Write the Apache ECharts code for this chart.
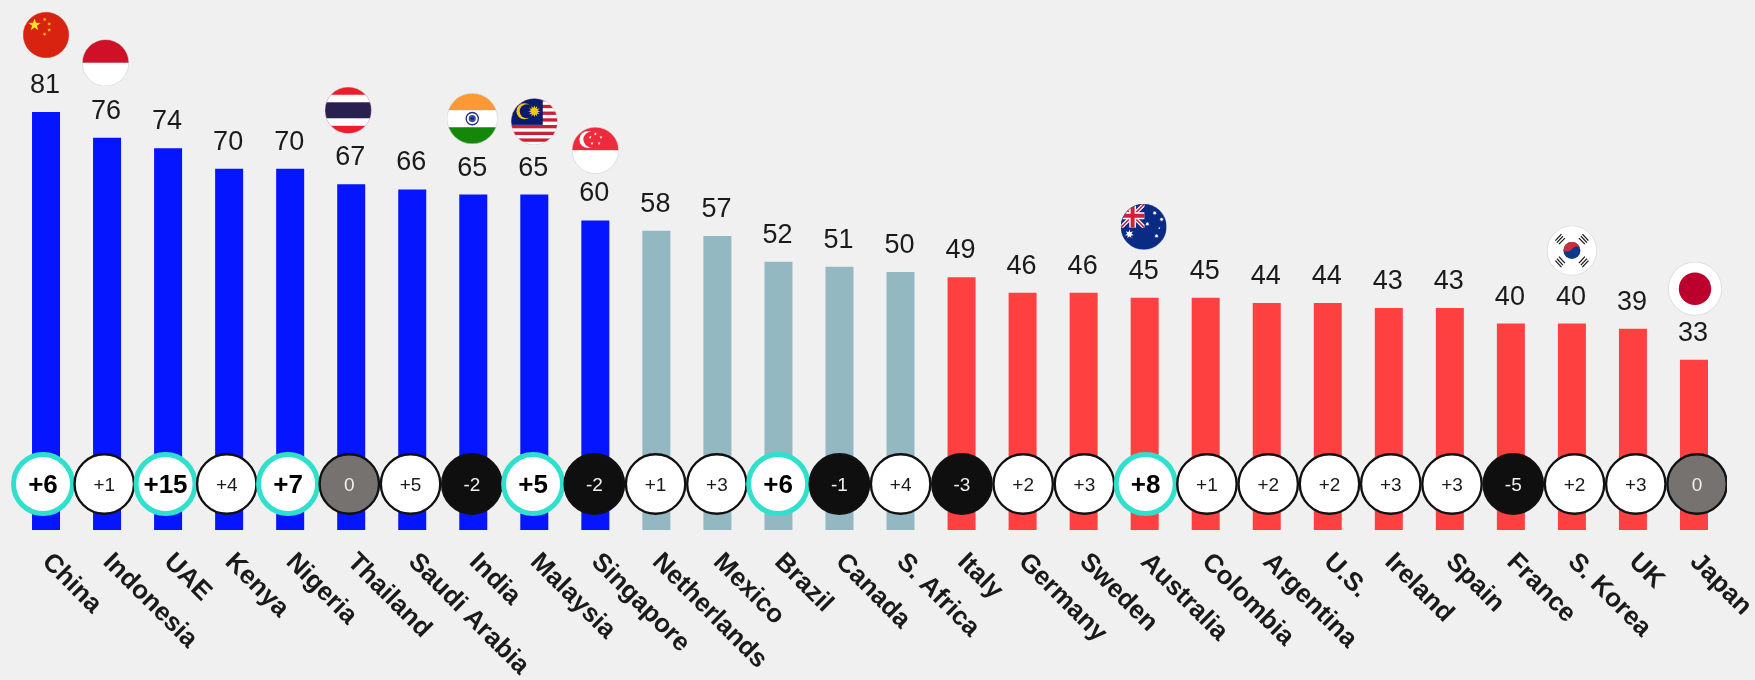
<!DOCTYPE html>
<html><head><meta charset="utf-8">
<style>html,body{margin:0;padding:0;background:#f0f0f0}#c{width:1755px;height:680px}</style>
<script src="https://cdn.jsdelivr.net/npm/echarts@6/dist/echarts.min.js"></script>
</head><body><div id="c"></div>
<script>
const categories = ['China','Indonesia','UAE','Kenya','Nigeria','Thailand','Saudi Arabia','India','Malaysia','Singapore','Netherlands','Mexico','Brazil','Canada','S. Africa','Italy','Germany','Sweden','Australia','Colombia','Argentina','U.S.','Ireland','Spain','France','S. Korea','UK','Japan'];
const values = [81,76,74,70,70,67,66,65,65,60,58,57,52,51,50,49,46,46,45,45,44,44,43,43,40,40,39,33];
const tiers = [0,0,0,0,0,0,0,0,0,0,1,1,1,1,1,2,2,2,2,2,2,2,2,2,2,2,2,2];
const changes = ['+6','+1','+15','+4','+7','0','+5','-2','+5','-2','+1','+3','+6','-1','+4','-3','+2','+3','+8','+1','+2','+2','+3','+3','-5','+2','+3','0'];
const highlighted = ['China','UAE','Nigeria','Malaysia','Brazil','Australia'];

const tierColors = ['#0515ff','#93b8c1','#ff4040'];

function star(cx,cy,r,rot=0,n=5,inner=0.4){
  let p=[];
  for(let i=0;i<n*2;i++){
    const a=-Math.PI/2+rot+i*Math.PI/n, q=i%2?r*inner:r;
    p.push((cx+q*Math.cos(a)).toFixed(2)+','+(cy+q*Math.sin(a)).toFixed(2));
  }
  return p.join(' ');
}
const S=(c,cx,cy,r,rot,n,inner)=>`<polygon fill="${c}" points="${star(cx,cy,r,rot,n,inner)}"/>`;
const R=(c,x,y,w,h)=>`<rect fill="${c}" x="${x}" y="${y}" width="${w}" height="${h}"/>`;
function flag(body,edge){
  const svg=`<svg xmlns="http://www.w3.org/2000/svg" width="200" height="200" viewBox="0 0 100 100"><defs><clipPath id="k"><circle cx="50" cy="50" r="49.4"/></clipPath></defs><g clip-path="url(#k)">${body}</g><circle cx="50" cy="50" r="49.4" fill="none" stroke="${edge||'#c8c8c8'}" stroke-width="1"/></svg>`;
  return 'image://data:image/svg+xml;charset=utf-8,'+encodeURIComponent(svg);
}
const malaysiaStripes=(()=>{let s=R('#fff',0,0,100,100);for(let i=0;i<7;i++)s+=R('#cc1f35',0,i*14.3,100,7.1);return s;})();
const flagArt = {
  'China': flag(R('#d7230f',0,0,100,100)+S('#ffde2e',25,28,14)+S('#ffc42e',47,16,4.5,.4)+S('#ffc42e',57,26,4.5,.9)+S('#ffc42e',57,39,4.5,0)+S('#ffc42e',47,48,4.5,.5),'#d7230f'),
  'Indonesia': flag(R('#ce1126',0,0,100,50)+R('#fff',0,50,100,50)),
  'Thailand': flag(R('#ef1c2a',0,0,100,100)+R('#fff',0,17,100,66)+R('#2a2050',0,33,100,34)),
  'India': flag(R('#ff9933',0,0,100,34)+R('#fff',0,34,100,33)+R('#138808',0,67,100,33)+`<circle cx="50" cy="50" r="12" fill="none" stroke="#22307f" stroke-width="2.6"/><circle cx="50" cy="50" r="7" fill="#3a4a9a"/><circle cx="50" cy="50" r="2.5" fill="#101f70"/>`),
  'Malaysia': flag(malaysiaStripes+R('#0a1a6c',0,0,68,57)+`<circle cx="29" cy="28" r="17" fill="#f5c518"/><circle cx="34" cy="28" r="15" fill="#0a1a6c"/>`+S('#f5c518',50,28,13,0,12,.55)),
  'Singapore': flag(R('#ee2a3c',0,0,100,50)+R('#fff',0,50,100,50)+`<circle cx="34" cy="27" r="18" fill="#fff"/><circle cx="41" cy="27" r="16.5" fill="#ee2a3c"/>`+S('#fff',50,15,3.6)+S('#fff',62,22,3.6)+S('#fff',58,35,3.6)+S('#fff',43,35,3.6)+S('#fff',39,22,3.6)),
  'Australia': flag(R('#0a2a84',0,0,100,100)+`<svg x="0" y="0" width="52" height="52" viewBox="0 0 60 60">${R('#0a2a84',0,0,60,60)}<path d="M0 0L60 60M60 0L0 60" stroke="#fff" stroke-width="10"/><path d="M0 0L60 60M60 0L0 60" stroke="#d0203a" stroke-width="4"/><path d="M30 0V60M0 30H60" stroke="#fff" stroke-width="17"/><path d="M30 0V60M0 30H60" stroke="#d0203a" stroke-width="10"/></svg>`+S('#fff',19,66,10,0,7,.45)+S('#fff',74,20,5,0,7,.45)+S('#fff',89,34,5,0,7,.45)+S('#fff',58,44,5,0,7,.45)+S('#fff',84,53,3,0,5)+S('#fff',78,70,5,0,7,.45),'#0a2a84'),
  'S. Korea': flag(R('#fff',0,0,100,100)+`<circle cx="50" cy="50" r="17" fill="#0b3a8c"/><path d="M33 50A17 17 0 0 1 67 50C67 42 58 39 52 45C48 50 42 55 33 50Z" fill="#cd2e3a"/><g stroke="#1d1d1d" stroke-width="2.6" fill="none"><path d="M17 30L29 17M20 34L32 21M24 37L36 25"/><path d="M71 17L83 30M68 21L80 34M64 25L76 37"/><path d="M17 70L29 83M20 66L32 79M24 62L36 75"/><path d="M71 83L83 70M68 79L80 66M64 75L76 62"/></g>`),
  'Japan': flag(R('#fff',0,0,100,100)+'<circle cx="50" cy="50" r="30" fill="#bc002d"/>')
};
// flag size and its lift above the bar top
const flagPlacement = [
  ['China',46,0,-77],['Indonesia',47,-1.5,-75],['Thailand',47,-3,-74],['India',51,-1,-76],['Malaysia',47,0,-73],
  ['Singapore',47,0,-70],['Australia',46,-1,-71],['S. Korea',50,0,-73],['Japan',54,1,-71]
];

const chart = echarts.init(document.getElementById('c'));
const FONT = '"Liberation Sans", Arial, sans-serif';
chart.setOption({
  animation:false,
  backgroundColor:'#f0f0f0',
  grid:[
    {left:15.5,width:1709,top:14,height:516,outerBoundsMode:'none'},
    {left:12.37,width:1715.3,top:424,height:120,outerBoundsMode:'none'}
  ],
  xAxis:[
    {type:'category',gridIndex:0,data:categories,axisLine:{show:false},axisTick:{show:false},
     axisLabel:{interval:0,rotate:-45,margin:28,fontFamily:FONT,fontWeight:'bold',fontSize:26,color:'#1a1a1a'}},
    {type:'category',gridIndex:1,data:categories,show:false}
  ],
  yAxis:[
    {type:'value',gridIndex:0,min:0,max:100,show:false,splitLine:{show:false}},
    {type:'category',gridIndex:1,data:['change'],show:false}
  ],
  series:[
    {type:'bar',xAxisIndex:0,yAxisIndex:0,barWidth:28,
     data:values.map((v,i)=>({value:v,itemStyle:{color:tierColors[tiers[i]]}})),
     label:{show:true,position:'top',distance:13,offset:[-1,0],fontFamily:FONT,fontSize:27,color:'#1a1a1a'}},
    {type:'scatter',xAxisIndex:0,yAxisIndex:0,z:3,itemStyle:{opacity:1},
     data:flagPlacement.map(([c,size,dx,dy])=>({
       value:[c,values[categories.indexOf(c)]],symbol:flagArt[c],symbolSize:size,symbolOffset:[dx,dy]
     }))},
    {type:'custom',xAxisIndex:1,yAxisIndex:1,z:4,
     data:categories.map((c,i)=>[i,0,changes[i]]),
     encode:{x:0,y:1},
     renderItem(params,api){
       const i=api.value(0), p=api.coord([i,0]), ch=changes[i], hi=highlighted.includes(categories[i]);
       const fill = ch==='0'?'#767270':ch[0]==='-'?'#0f0f0f':'#ffffff';
       const cs=params.coordSys;
       return {type:'group',
         clipPath:{type:'rect',shape:{x:cs.x-20,y:cs.y,width:cs.width+19.3,height:cs.height}},
         children:[
         {type:'circle',shape:{cx:p[0],cy:p[1],r:hi?29.5:29.7},
          style:{fill,stroke:hi?'#2fe0cc':'#111111',lineWidth:hi?5:2.4}},
         {type:'text',style:{x:p[0],y:p[1]+2,text:ch,align:'center',verticalAlign:'middle',
           fontFamily:FONT,fontWeight:hi?'bold':'normal',fontSize:hi?26:19,
           fill:fill==='#ffffff'?(hi?'#000':'#1a1a1a'):'#f0f0f0'}}
       ]};
     }}
  ]
});
</script></body></html>
